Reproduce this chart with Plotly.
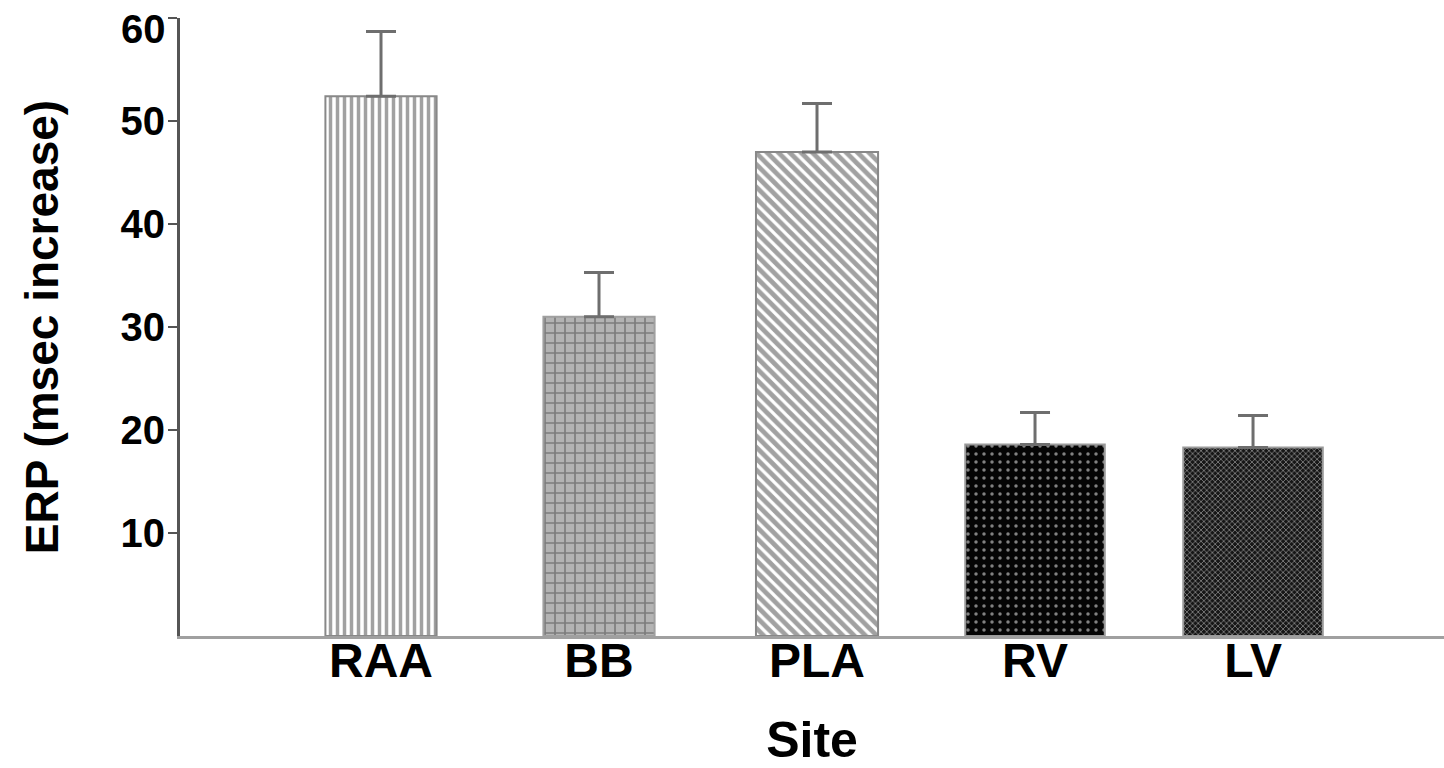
import plotly.graph_objects as go

sites = ["RAA", "BB", "PLA", "RV", "LV"]
erp_mean = [52.4, 31.0, 47.0, 18.6, 18.3]
erp_err = [6.3, 4.3, 4.7, 3.1, 3.1]
y_ticks = [10, 20, 30, 40, 50, 60]

bar_widths = [0.51, 0.51, 0.56, 0.64, 0.64]
pat_shape = ["|", "+", "\\", ".", "x"]
pat_fg = ["#555555", "#8f8f8f", "#000000", "#8a8a8a", "#5a5a5a"]
pat_bg = ["#ffffff", "#b3b3b3", "#ffffff", "#050505", "#161616"]
pat_size = [7, 10, 8, 8, 4]
pat_sol = [0.5, 0.3, 0.6, 0.15, 0.35]
edge_col = ["#888888", "#a0a0a0", "#888888", "#9a9a9a", "#9a9a9a"]

fig = go.Figure()
fig.add_trace(go.Bar(
    x=sites, y=erp_mean, width=bar_widths,
    marker=dict(
        color=pat_bg,
        line=dict(color=edge_col, width=2),
        pattern=dict(shape=pat_shape, fgcolor=pat_fg, bgcolor=pat_bg,
                     size=pat_size, solidity=pat_sol, fillmode="overlay"),
    ),
    error_y=dict(type="data", array=erp_err, arrayminus=[0]*len(erp_err),
                 symmetric=False, color="#6e6e6e", thickness=3, width=15),
))

font_family = "Liberation Sans, Arial, sans-serif"
tick_font = dict(size=40, family=font_family, weight="bold", color="black")
# top tick label sits just below the top edge, as in the reference
tick_text = [str(v) for v in y_ticks[:-1]] + [""]
fig.add_annotation(
    x=0, xref="paper", y=y_ticks[-1], yref="y",
    text=str(y_ticks[-1]), showarrow=False,
    xanchor="right", yanchor="middle", xshift=-12, yshift=-11,
    font=tick_font,
)

fig.update_layout(
    width=1444, height=768,
    margin=dict(l=180, r=0, t=18, b=132),
    plot_bgcolor="white", paper_bgcolor="white",
    showlegend=False,
    font=dict(family=font_family, color="black"),
    xaxis=dict(
        range=[-0.922, 4.876], automargin=False,
        showline=True, linecolor="#a0a0a0", linewidth=3,
        ticks="", showgrid=False, zeroline=False,
        tickfont=dict(size=48, family=font_family, weight="bold"),
        ticklabelstandoff=-20,
        title=dict(text="<b>Site</b>", font=dict(size=50), standoff=46),
    ),
    yaxis=dict(
        range=[0, 60], tickvals=y_ticks, ticktext=tick_text, automargin=False,
        showline=True, linecolor="#555555", linewidth=3,
        ticks="outside", ticklen=9, tickwidth=2, tickcolor="#555555",
        showgrid=False, zeroline=False,
        tickfont=tick_font,
        ticklabelstandoff=-5,
        title=dict(text="<b>ERP (msec increase)</b>", font=dict(size=46), standoff=48),
    ),
)

fig.write_html("out.html")
